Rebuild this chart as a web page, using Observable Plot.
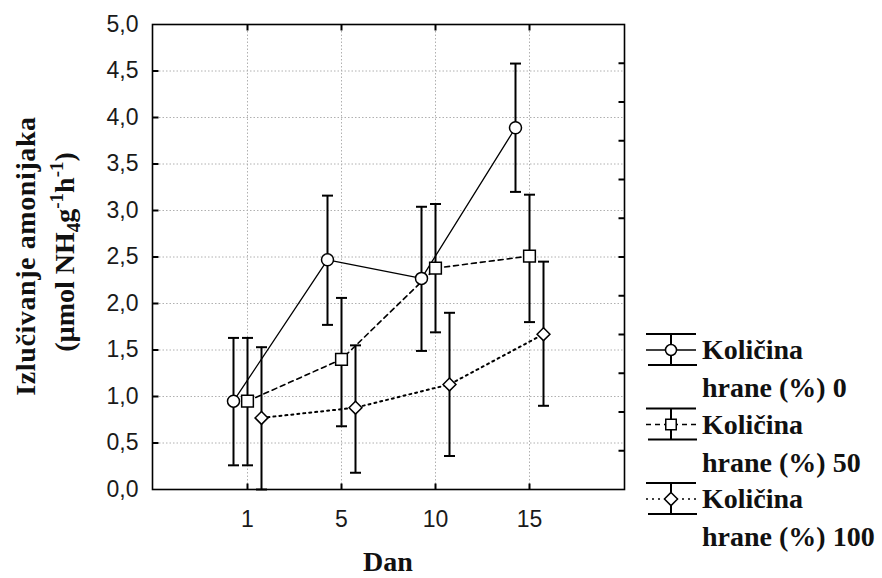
<!DOCTYPE html>
<html><head><meta charset="utf-8">
<script src="https://cdn.jsdelivr.net/npm/d3@7"></script>
<script src="https://cdn.jsdelivr.net/npm/@observablehq/plot@0.6"></script>
<style>body{margin:0;background:#fff}</style>
</head><body><div id="chart"></div>
<script>
const days = ["1", "5", "10", "15"];
const legendLine1 = ["Količina", "Količina", "Količina"];
const legendLine2 = ["hrane (%) 0", "hrane (%) 50", "hrane (%) 100"];
const mean0 = [0.95, 2.47, 2.27, 3.89];
const lo0   = [0.26, 1.77, 1.49, 3.20];
const hi0   = [1.63, 3.16, 3.04, 4.58];
const mean50 = [0.95, 1.40, 2.38, 2.51];
const lo50   = [0.26, 0.68, 1.69, 1.80];
const hi50   = [1.63, 2.06, 3.07, 3.17];
const mean100 = [0.77, 0.88, 1.13, 1.67];
const lo100   = [0.00, 0.18, 0.36, 0.90];
const hi100   = [1.53, 1.55, 1.90, 2.45];
const yTicks = [0, 0.5, 1, 1.5, 2, 2.5, 3, 3.5, 4, 4.5, 5];
const rightTicks = [0.4167, 0.8333, 1.25, 1.6667, 2.0833, 2.5, 2.9167, 3.3333, 3.75, 4.1667, 4.5833];

const table = (m, l, h) => days.map((d, i) => ({day: d, mean: m[i], lo: l[i], hi: h[i]}));
const s0 = table(mean0, lo0, hi0);
const s50 = table(mean50, lo50, hi50);
const s100 = table(mean100, lo100, hi100);

const capSym = {draw(c) { c.moveTo(-5.5, 0); c.lineTo(5.5, 0); }};
const tickR = {draw(c) { c.moveTo(0, 0); c.lineTo(6, 0); }};
const tickL = {draw(c) { c.moveTo(0, 0); c.lineTo(-6, 0); }};
const tickU = {draw(c) { c.moveTo(0, 0); c.lineTo(0, -6); }};
const tickD = {draw(c) { c.moveTo(0, 0); c.lineTo(0, 6); }};

const series = [
  {data: s0, dx: -14, symbol: "circle", r: 6, dash: null, lw: 1.3},
  {data: s50, dx: 0, symbol: "square", r: 6.6, dash: "5,4", lw: 1.6},
  {data: s100, dx: 14, symbol: "diamond2", r: 5.8, dash: "2,4", lw: 2}
];

const marks = [
  Plot.gridY(yTicks.filter(d => d > 0 && d < 5), {stroke: "#b0b0b0", strokeOpacity: 1, strokeDasharray: "1.5,2"}),
  Plot.gridX(days, {stroke: "#b0b0b0", strokeOpacity: 1, strokeDasharray: "1.5,2"}),
  Plot.axisY(yTicks, {tickSize: 0, tickPadding: 14, tickFormat: d => d.toFixed(1).replace(".", ","), fontSize: 23, fontFamily: "Liberation Sans, Arial, sans-serif", fill: "#1a1a1a", label: null}),
  Plot.axisX(days, {tickSize: 0, tickPadding: 21, fontSize: 23, fontFamily: "Liberation Sans, Arial, sans-serif", fill: "#1a1a1a", label: null})
];
for (const s of series) {
  marks.push(Plot.line(s.data, {x: "day", y: "mean", dx: s.dx, stroke: "black", strokeWidth: s.lw, strokeDasharray: s.dash}));
}
for (const s of series) {
  marks.push(Plot.ruleX(s.data, {x: "day", y1: "lo", y2: "hi", dx: s.dx, stroke: "black", strokeWidth: 2}));
  marks.push(Plot.dot(s.data, {x: "day", y: "lo", dx: s.dx, symbol: capSym, fill: "none", stroke: "black", strokeWidth: 2}));
  marks.push(Plot.dot(s.data, {x: "day", y: "hi", dx: s.dx, symbol: capSym, fill: "none", stroke: "black", strokeWidth: 2}));
}
for (const s of series) {
  marks.push(Plot.dot(s.data, {x: "day", y: "mean", dx: s.dx, symbol: s.symbol, r: s.r, fill: "white", stroke: "black", strokeWidth: 1.5}));
}
marks.push(
  Plot.frame({stroke: "black", strokeWidth: 1.6}),
  Plot.dot(yTicks.filter(d => d > 0 && d < 5), {y: d => d, frameAnchor: "left", symbol: tickR, fill: "none", stroke: "black", strokeWidth: 2}),
  Plot.dot(rightTicks, {y: d => d, frameAnchor: "right", symbol: tickL, fill: "none", stroke: "black", strokeWidth: 2}),
  Plot.dot(days, {x: d => d, frameAnchor: "top", symbol: tickD, fill: "none", stroke: "black", strokeWidth: 2}),
  Plot.dot(days, {x: d => d, frameAnchor: "bottom", symbol: tickU, fill: "none", stroke: "black", strokeWidth: 2})
);

const plot = Plot.plot({
  width: 882, height: 578,
  marginLeft: 152, marginRight: 258, marginTop: 24, marginBottom: 89,
  x: {type: "point", domain: days, padding: 1},
  y: {domain: [0, 5]},
  style: {background: "white", overflow: "visible"},
  marks
});
document.getElementById("chart").appendChild(plot);

// Titles and legend
const svg = d3.select(plot);
const serif = "Liberation Serif, Times New Roman, serif";
const tg = svg.append("g").attr("font-family", serif).attr("font-weight", "bold").attr("font-size", 28).attr("fill", "#111");
tg.append("text").attr("transform", "translate(35,256) rotate(-90)").attr("text-anchor", "middle").attr("letter-spacing", 0.6).text("Izlučivanje amonijaka");
const t2 = tg.append("text").attr("transform", "translate(74,252) rotate(-90)").attr("text-anchor", "middle");
t2.append("tspan").text("(µmol NH");
t2.append("tspan").attr("font-size", 19).attr("dy", 6).text("4");
t2.append("tspan").attr("dy", -6).text("g");
t2.append("tspan").attr("font-size", 19).attr("dy", -11).text("-1");
t2.append("tspan").attr("dy", 11).text("h");
t2.append("tspan").attr("font-size", 19).attr("dy", -11).text("-1");
t2.append("tspan").attr("dy", 11).text(")");
tg.append("text").attr("x", 388).attr("y", 571).attr("text-anchor", "middle").text("Dan");

const lg = svg.append("g");
const legSym = [d3.symbolCircle, d3.symbolSquare, d3.symbolDiamond2];
const legSize = [95, 110, 110];
series.forEach((s, i) => {
  const my = 350 + i * 74.5;
  const g = lg.append("g").attr("stroke", "black").attr("fill", "none");
  g.append("line").attr("x1", 646).attr("x2", 696).attr("y1", my - 16).attr("y2", my - 16).attr("stroke-width", 2);
  g.append("line").attr("x1", 648).attr("x2", 697).attr("y1", my + 15).attr("y2", my + 15).attr("stroke-width", 2);
  g.append("line").attr("x1", 671).attr("x2", 671).attr("y1", my - 16).attr("y2", my + 15).attr("stroke-width", 2);
  g.append("line").attr("x1", 646).attr("x2", 696).attr("y1", my).attr("y2", my).attr("stroke-width", 1.5).attr("stroke-dasharray", s.dash);
  g.append("path").attr("d", d3.symbol(legSym[i], legSize[i])()).attr("transform", `translate(671,${my})`).attr("fill", "white").attr("stroke-width", 1.5);
  const t = lg.append("text").attr("font-family", serif).attr("font-weight", "bold").attr("font-size", 28).attr("fill", "#111").attr("text-anchor", "start");
  t.append("tspan").attr("x", 702).attr("y", my + 9).text(legendLine1[i]);
  t.append("tspan").attr("x", 702).attr("y", my + 47).text(legendLine2[i]);
});
</script></body></html>
